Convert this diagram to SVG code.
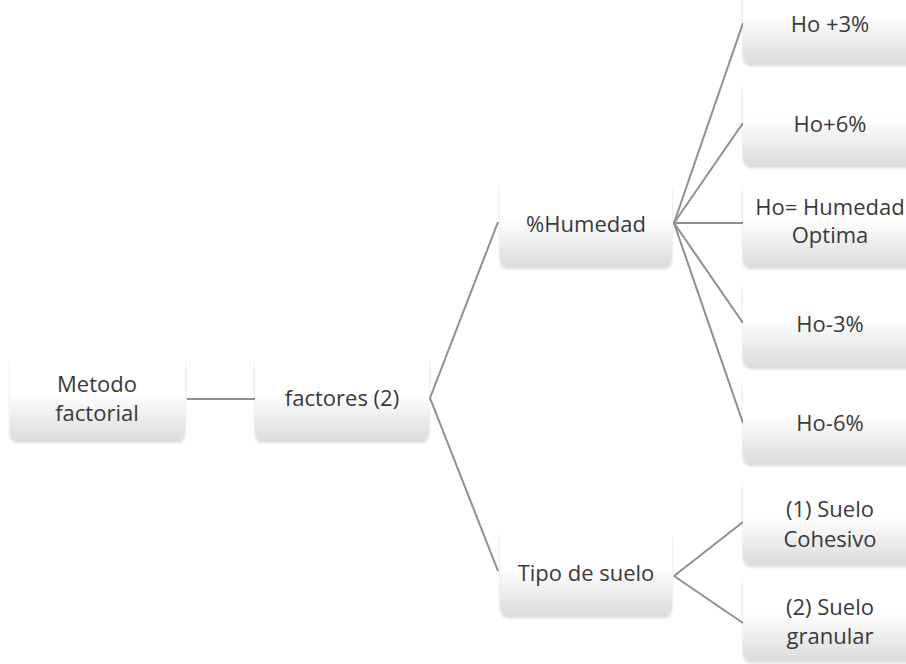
<svg xmlns="http://www.w3.org/2000/svg" width="906" height="664" viewBox="0 0 906 664">
<defs>
<linearGradient id="g" x1="0" y1="0" x2="0" y2="1">
<stop offset="0" stop-color="#ffffff"/>
<stop offset="0.45" stop-color="#ffffff"/>
<stop offset="1" stop-color="#dcdcdc"/>
</linearGradient>
<filter id="sh" x="-10%" y="-10%" width="120%" height="130%">
<feDropShadow dx="0" dy="3" stdDeviation="1.5" flood-color="#000" flood-opacity="0.15"/>
</filter>
</defs>
<style>
.box{fill:url(#g);filter:url(#sh);}
.t{font-family:"Open Sans","Liberation Sans",sans-serif;font-size:22px;fill:#3a3a3a;text-anchor:middle;}
.c{stroke:#8f8f8f;stroke-width:2;fill:none;}
</style>
<rect width="906" height="664" fill="#ffffff"/>
<g id="connectors">
<line class="c" x1="187" y1="399" x2="255" y2="399"/>
<line class="c" x1="430" y1="398" x2="498" y2="222"/>
<line class="c" x1="430" y1="398" x2="498" y2="571"/>
<line class="c" x1="674" y1="223" x2="743" y2="23"/>
<line class="c" x1="674" y1="223" x2="743" y2="123"/>
<line class="c" x1="674" y1="223" x2="743" y2="223"/>
<line class="c" x1="674" y1="223" x2="743" y2="323"/>
<line class="c" x1="674" y1="223" x2="743" y2="423"/>
<line class="c" x1="674" y1="576" x2="743" y2="522"/>
<line class="c" x1="674" y1="576" x2="743" y2="623"/>
</g>
<g id="n-metodo">
<rect class="box" x="10" y="354" width="175" height="86" rx="8"/>
<text class="t" x="97" y="392">Metodo</text>
<text class="t" x="97" y="421">factorial</text>
</g>
<g id="n-factores">
<rect class="box" x="255" y="354" width="174" height="86" rx="8"/>
<text class="t" x="342" y="406">factores (2)</text>
</g>
<g id="n-humedad">
<rect class="box" x="500" y="180" width="172" height="86" rx="8"/>
<text class="t" x="586" y="232">%Humedad</text>
</g>
<g id="n-tipo">
<rect class="box" x="500" y="529" width="172" height="86" rx="8"/>
<text class="t" x="586" y="581">Tipo de suelo</text>
</g>
<g id="n-ho3p">
<rect class="box" x="743" y="-23" width="175" height="86" rx="8"/>
<text class="t" x="830" y="32">Ho +3%</text>
</g>
<g id="n-ho6p">
<rect class="box" x="743" y="79" width="175" height="86" rx="8"/>
<text class="t" x="830" y="132">Ho+6%</text>
</g>
<g id="n-hoopt">
<rect class="box" x="743" y="180" width="175" height="86" rx="8"/>
<text class="t" x="830" y="215">Ho= Humedad</text>
<text class="t" x="830" y="243">Optima</text>
</g>
<g id="n-ho3m">
<rect class="box" x="743" y="280" width="175" height="86" rx="8"/>
<text class="t" x="830" y="332">Ho-3%</text>
</g>
<g id="n-ho6m">
<rect class="box" x="743" y="377" width="175" height="86" rx="8"/>
<text class="t" x="830" y="431">Ho-6%</text>
</g>
<g id="n-cohesivo">
<rect class="box" x="743" y="478" width="175" height="86" rx="8"/>
<text class="t" x="830" y="517">(1) Suelo</text>
<text class="t" x="830" y="547">Cohesivo</text>
</g>
<g id="n-granular">
<rect class="box" x="743" y="574" width="175" height="86" rx="8"/>
<text class="t" x="830" y="615">(2) Suelo</text>
<text class="t" x="830" y="644">granular</text>
</g>
</svg>
